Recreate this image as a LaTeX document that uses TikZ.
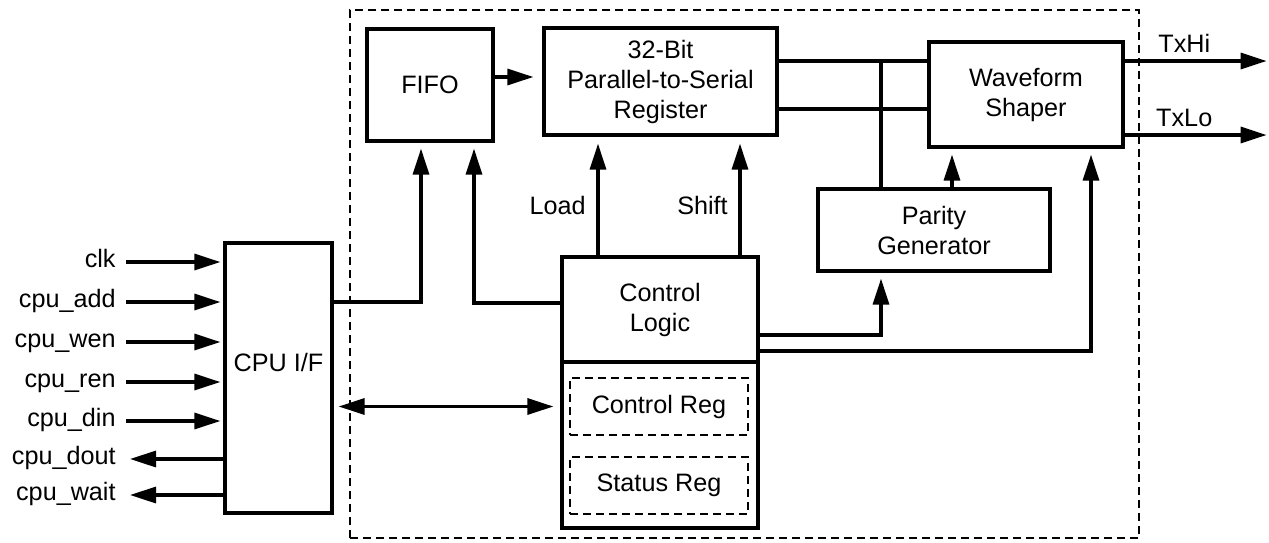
\documentclass[tikz,border=0pt]{standalone}
\usepackage{fontspec}
\setmainfont{Liberation Sans}
\usetikzlibrary{arrows.meta,calc}
\begin{document}
\begin{tikzpicture}[x=0.5pt,y=-0.5pt,
  font=\fontsize{12.6}{15}\selectfont,
  box/.style={draw, line width=1.6pt, align=center, inner sep=0pt},
  dbox/.style={draw, line width=0.8pt, dash pattern=on 4pt off 2.5pt, inner sep=0pt},
  conn/.style={line width=1.6pt},
  arr/.style={conn, -{Triangle[length=13pt,width=8pt]}},
  darr/.style={conn, {Triangle[length=13pt,width=8pt]}-{Triangle[length=13pt,width=8pt]}},
  sig/.style={inner sep=0pt, anchor=east, text height=0.72em, text depth=0.2em},
]
\useasboundingbox (0,0) rectangle (1269,542);

% blocks
\node[dbox, minimum width=394.5pt, minimum height=264pt] (core) at (744.5,274) {};
\node[box, minimum width=53.5pt, minimum height=135pt,
      label={[yshift=8pt]center:CPU I/F}] (cpu) at (278.5,378) {};
\node[box, minimum width=63pt, minimum height=56pt] (fifo) at (430,85) {FIFO};
\node[box, minimum width=116.5pt, minimum height=53.5pt] (reg) at (660.5,81.5) {32-Bit\\Parallel-to-Serial\\Register};
\node[box, minimum width=97pt, minimum height=52.5pt] (ws) at (1026,94.5) {Waveform\\Shaper};
\node[box, minimum width=116pt, minimum height=41pt] (par) at (934,230) {Parity\\Generator};
\node[box, minimum width=98pt, minimum height=83pt] (regs) at (660,445) {};
\node[box, minimum width=98pt, minimum height=52.5pt] (ctl) at (660,309.5) {Control\\Logic};
\node[dbox, minimum width=89pt, minimum height=28.5pt] (creg) at (659,406.5) {Control Reg};
\node[dbox, minimum width=89pt, minimum height=28.5pt] (sreg) at (659,485.5) {Status Reg};

% CPU signals
\node[sig] (lclk) at (116,262) {clk};
\node[sig] (ladd) at (116,302) {cpu\_add};
\node[sig] (lwen) at (116,342) {cpu\_wen};
\node[sig] (lren) at (116,382) {cpu\_ren};
\node[sig] (ldin) at (116,421) {cpu\_din};
\node[sig] (ldout) at (116,459) {cpu\_dout};
\node[sig] (lwait) at (116,495) {cpu\_wait};

\foreach \s in {lclk,ladd,lwen,lren,ldin}
  \draw[arr, shorten >=1.5pt] ([xshift=5pt]\s.east) -- (\s.east -| cpu.west);
\foreach \s in {ldout,lwait}
  \draw[arr] (\s.east -| cpu.west) -- ([xshift=7pt]\s.east);

% connections
\draw[arr, shorten >=3pt] (cpu.east |- ladd.east) -| ([xshift=-4.5pt]fifo.south);
\draw[arr, shorten >=3pt] ([yshift=3.25pt]ctl.west) -| ([xshift=22pt]fifo.south);
\draw[arr, shorten >=4.5pt] ([yshift=4pt]fifo.east) coordinate (f1) -- (f1 -| reg.west);

\draw[arr, shorten >=3.5pt] ([xshift=-31pt]ctl.north) coordinate (l1) -- (l1 |- reg.south)
  node[pos=0.42, left=2pt] {Load};
\draw[arr, shorten >=3.5pt] ([xshift=40pt]ctl.north) coordinate (s1) -- (s1 |- reg.south)
  node[pos=0.42, left=2pt] {Shift};

\draw[conn] ([yshift=10.25pt]reg.east) coordinate (r1) -- (r1 -| ws.west);
\draw[conn] ([yshift=-13.75pt]reg.east) coordinate (r2) -- (r2 -| ws.west);
\draw[conn] ([xshift=-26.5pt]par.north) coordinate (t1) -- (t1 |- r1);

\draw[arr, shorten >=3pt] ([xshift=9pt]par.north) coordinate (p1) -- (p1 |- ws.south);
\draw[arr, shorten >=3pt] ([yshift=-12.75pt]ctl.east) -| ([xshift=-26.5pt]par.south);
\draw[arr, shorten >=3pt] ([yshift=-20.75pt]ctl.east) -| ([xshift=32.5pt]ws.south);

\draw[arr] ([yshift=16.75pt]ws.east) -- ++(142,0) node[pos=0.42, above] {TxHi};
\draw[arr] ([yshift=-20.25pt]ws.east) -- ++(142,0) node[pos=0.42, above] {TxLo};

\draw[darr, shorten <=2.5pt, shorten >=3.5pt] (cpu.east |- creg.west) -- (regs.west |- creg.west);
\end{tikzpicture}
\end{document}
